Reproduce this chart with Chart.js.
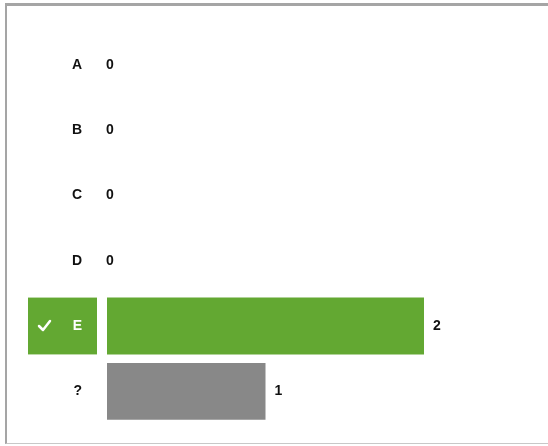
<!DOCTYPE html>
<html>
<head>
<meta charset="utf-8">
<script src="https://cdn.jsdelivr.net/npm/chart.js@4.4.0/dist/chart.umd.min.js"></script>
<style>
  html, body { margin: 0; padding: 0; background: #fff; }
  #wrap { position: relative; width: 548px; height: 446px; overflow: hidden; }
  #frame {
    position: absolute; left: 5px; top: 3px; width: 700px; height: 437px;
    border-top: 3px solid #a5a5a5; border-left: 2px solid #a5a5a5; border-bottom: 1px solid #c8c8c8;
  }
  canvas { position: absolute; left: 0; top: 0; }
</style>
</head>
<body>
<div id="wrap">
  <div id="frame"></div>
  <canvas id="answerChart" width="548" height="446"></canvas>
</div>
<script>
var answers = ['A', 'B', 'C', 'D', 'E', '?'];
var votes = [0, 0, 0, 0, 2, 1];
var correctAnswer = 'E';
var unknownAnswer = '?';

var green = '#63a832';
var grey = '#888888';
var labelFont = 'bold 14px "Liberation Sans", Arial, sans-serif';

function barColor(ctx) {
    var label = answers[ctx.dataIndex];
    if (label === correctAnswer) return green;
    if (label === unknownAnswer) return grey;
    return '#cccccc';
}

// green box with a tick behind the correct answer's label, value labels after the bars
var answerBox = {
    id: 'answerBox',
    beforeDraw: function(chart) {
        var ctx = chart.ctx;
        var meta = chart.getDatasetMeta(0);
        var bar = meta.data[answers.indexOf(correctAnswer)];
        var left = chart.chartArea.left;
        var h = bar.height;
        ctx.save();
        ctx.fillStyle = green;
        ctx.fillRect(left - 79, bar.y - h / 2, 69, h);
        ctx.strokeStyle = '#ffffff';
        ctx.lineWidth = 2.5;
        ctx.lineCap = 'round';
        ctx.lineJoin = 'round';
        ctx.beginPath();
        ctx.moveTo(left - 68, bar.y);
        ctx.lineTo(left - 64, bar.y + 4);
        ctx.lineTo(left - 57, bar.y - 5);
        ctx.stroke();
        ctx.restore();
    },
    afterDatasetsDraw: function(chart) {
        var ctx = chart.ctx;
        var meta = chart.getDatasetMeta(0);
        ctx.save();
        ctx.font = labelFont;
        ctx.fillStyle = '#111111';
        ctx.textAlign = 'left';
        ctx.textBaseline = 'middle';
        meta.data.forEach(function(bar, i) {
            var v = votes[i];
            ctx.fillText(String(v), bar.x + (v > 0 ? 9 : -1), bar.y);
        });
        ctx.restore();
    }
};

var chart = new Chart(document.getElementById('answerChart').getContext('2d'), {
    type: 'bar',
    data: {
        labels: answers,
        datasets: [{
            data: votes,
            backgroundColor: barColor,
            borderWidth: 0,
            categoryPercentage: 1,
            barPercentage: 0.87
        }]
    },
    options: {
        indexAxis: 'y',
        responsive: false,
        animation: false,
        layout: { padding: { left: 0, right: 124, top: 32, bottom: 22 } },
        plugins: { legend: { display: false }, tooltip: { enabled: false } },
        scales: {
            x: { display: false, min: 0, max: 2 },
            y: {
                grid: { display: false, drawTicks: false },
                border: { display: false },
                afterFit: function(scale) {
                    scale.width = 107;
                    scale.paddingTop = 0;
                    scale.paddingBottom = 0;
                },
                ticks: {
                    padding: 25,
                    font: { family: '"Liberation Sans", Arial, sans-serif', size: 14, weight: 'bold' },
                    color: function(ctx) {
                        return answers[ctx.index] === correctAnswer ? '#ffffff' : '#111111';
                    }
                }
            }
        }
    },
    plugins: [answerBox]
});
</script>
</body>
</html>
